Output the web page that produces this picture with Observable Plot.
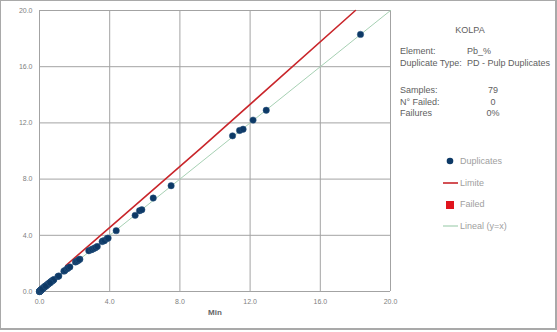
<!DOCTYPE html>
<html><head><meta charset="utf-8">
<script src="https://cdn.jsdelivr.net/npm/d3@7"></script>
<script src="https://cdn.jsdelivr.net/npm/@observablehq/plot@0.6"></script>
<style>
body{margin:0;background:#fff;}
#wrap{position:relative;width:557px;height:332px;font-family:"Liberation Sans",Arial,sans-serif;overflow:hidden;}
#border{position:absolute;left:0;top:0;width:554px;height:327px;border:1px solid #a9a9a9;border-right-width:2px;border-bottom-width:2px;pointer-events:none;}
.t{position:absolute;font-size:9px;line-height:12px;color:#5e5e5e;white-space:nowrap;}
.lg{position:absolute;font-size:9px;line-height:12px;color:#a0a0a0;white-space:nowrap;}
</style></head>
<body>
<div id="wrap"></div>
<script>
// ---- data ----
const dupOriginal = [
  0.00,0.01,0.01,0.02,0.02,0.03,0.03,0.04,0.05,0.06,0.07,0.08,0.09,0.10,0.12,0.14,0.16,0.18,0.20,0.22,0.25,0.28,
  0.30,0.34,0.38,0.42,0.46,0.50,0.53,0.57,0.62,0.66,0.70,0.75,0.78,0.82,1.05,1.10,
  1.39,1.45,1.58,1.63,1.73,2.05,2.12,2.20,2.30,
  2.81,2.95,3.00,3.10,3.19,3.29,3.57,3.62,3.70,3.86,3.91,4.37,
  5.45,5.70,5.83,6.48,7.50,
  11.00,11.40,11.60,12.17,12.92,18.29,
  0.00,0.01,0.02,0.05,0.11,0.15,0.35,0.60,2.25
];
const dupDuplicate = [
  0.00,0.02,0.01,0.03,0.02,0.04,0.03,0.05,0.06,0.07,0.08,0.09,0.10,0.12,0.14,0.16,0.18,0.20,0.24,0.25,0.28,0.32,
  0.36,0.38,0.42,0.45,0.50,0.54,0.57,0.60,0.66,0.70,0.74,0.78,0.80,0.85,1.07,1.10,
  1.45,1.50,1.62,1.68,1.75,2.10,2.15,2.20,2.30,
  2.90,2.98,3.00,3.06,3.12,3.20,3.55,3.60,3.62,3.78,3.80,4.33,
  5.42,5.75,5.82,6.65,7.53,
  11.08,11.46,11.55,12.20,12.90,18.30,
  0.00,0.01,0.03,0.06,0.12,0.17,0.38,0.62,2.27
];
const limitX = [1.5, 4.6, 9.2, 18.0];
const limitY = [1.85, 5.2, 10.2, 20.0];
const identityX = [0, 20];
const identityY = [0, 20];
const xTicks = [0, 4, 8, 12, 16, 20];
const yTicks = [0, 4, 8, 12, 16, 20];
const panelTitle = "KOLPA";
const infoLabels = ["Element:", "Duplicate Type:"];
const infoValues = ["Pb_%", "PD - Pulp Duplicates"];
const statLabels = ["Samples:", "N° Failed:", "Failures"];
const statValues = ["79", "0", "0%"];
const legendLabels = ["Duplicates", "Limite", "Failed", "Lineal (y=x)"];

const dupRows = dupOriginal.map((v,i)=>({x:v,y:dupDuplicate[i]}));
const limitRows = limitX.map((v,i)=>({x:v,y:limitY[i]}));
const idRows = identityX.map((v,i)=>({x:v,y:identityY[i]}));

const chart = Plot.plot({
  width:557, height:332,
  marginLeft:39, marginRight:167, marginTop:10, marginBottom:41,
  x:{domain:[0,20]}, y:{domain:[0,20]},
  style:{fontFamily:"Liberation Sans, Arial, sans-serif", fontSize:"7px", color:"#808080", background:"transparent", overflow:"visible"},
  marks:[
    Plot.gridX(xTicks,{stroke:"#a3a3a3", strokeOpacity:1}),
    Plot.gridY(yTicks,{stroke:"#a3a3a3", strokeOpacity:1}),
    Plot.axisX(xTicks,{tickSize:0, tickPadding:8, tickFormat:d=>d.toFixed(1), label:null}),
    Plot.axisY(yTicks,{tickSize:0, tickPadding:7, tickFormat:d=>d.toFixed(1), label:null}),
    Plot.line(idRows,{x:"x", y:"y", stroke:"#a6d0b3", strokeWidth:1}),
    Plot.line(limitRows,{x:"x", y:"y", stroke:"#c9262b", strokeWidth:1.6}),
    Plot.dot(dupRows,{x:"x", y:"y", r:3.2, fill:"#0d3966", stroke:"#2a5580", strokeWidth:0.5}),
    Plot.text(["Min"],{frameAnchor:"bottom", dy:23, fontWeight:"bold", fill:"#666", fontSize:8})
  ]
});
const wrap = document.getElementById("wrap");
wrap.appendChild(chart);
chart.style.position="absolute"; chart.style.left="0"; chart.style.top="0";

function addText(cls, txt, left, top, extra){
  const d=document.createElement("div"); d.className=cls; d.textContent=txt;
  d.style.left=left+"px"; d.style.top=top+"px";
  if(extra) Object.assign(d.style, extra);
  wrap.appendChild(d); return d;
}
addText("t", panelTitle, 420, 24, {width:"100px", textAlign:"center"});
infoLabels.forEach((l,i)=>{ addText("t", l, 400, 45+i*12); addText("t", infoValues[i], 467, 45+i*12); });
statLabels.forEach((l,i)=>{ addText("t", l, 400, 84+i*11.5); addText("t", statValues[i], 478, 84+i*11.5, {width:"30px", textAlign:"center"}); });

// legend swatches
const ns="http://www.w3.org/2000/svg";
const lsvg=document.createElementNS(ns,"svg");
lsvg.setAttribute("width",557); lsvg.setAttribute("height",332);
lsvg.style.position="absolute"; lsvg.style.left="0"; lsvg.style.top="0";
lsvg.innerHTML=`<circle cx="450" cy="161" r="3.3" fill="#0d3966"/>
<line x1="443" x2="458" y1="183" y2="183" stroke="#c9262b" stroke-width="1.6"/>
<rect x="446" y="201" width="8" height="8" fill="#e0141e"/>
<line x1="443" x2="458" y1="226" y2="226" stroke="#a6d0b3" stroke-width="1.2"/>`;
wrap.appendChild(lsvg);
legendLabels.forEach((l,i)=>addText("lg", l, 460, 155+i*21.7));

const b=document.createElement("div"); b.id="border"; wrap.appendChild(b);
</script>
</body></html>
